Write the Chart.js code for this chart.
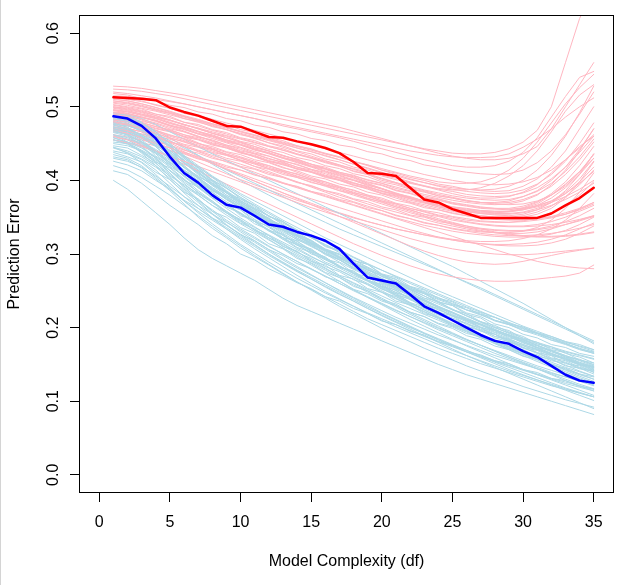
<!DOCTYPE html>
<html lang="en">
<head>
<meta charset="UTF-8" />
<title>Prediction Error vs Model Complexity</title>
<script src="https://cdn.jsdelivr.net/npm/chart.js@4.4.1/dist/chart.umd.min.js"></script>
<style>
  body { margin: 0; background: #fff; }
  canvas { display: block; }
</style>
</head>
<body>
<canvas id="errChart" width="630" height="585"></canvas>
<script>
// model complexity (df) on the x axis
const df = [1, 2, 3, 4, 5, 6, 7, 8, 9, 10, 11, 12, 13, 14, 15, 16, 17, 18,
  19, 20, 21, 22, 23, 24, 25, 26, 27, 28, 29, 30, 31, 32, 33, 34, 35];

const xTicks = [0, 5, 10, 15, 20, 25, 30, 35];
const yTicks = [0, 0.1, 0.2, 0.3, 0.4, 0.5, 0.6];
const yTickLabels = ["0.0", "0.1", "0.2", "0.3", "0.4", "0.5", "0.6"];
const xTitle = "Model Complexity (df)";
const yTitle = "Prediction Error";

// values are prediction error x 1000
// highlighted test (red) and training (blue) curves
const testMain = [513, 512, 511, 509, 499, 493, 488, 481, 474, 473, 466, 459, 458, 453, 449,
  444, 437, 425, 410, 409, 406, 390, 374, 370, 361, 355, 349, 349, 349, 349, 349, 355, 366, 376, 390];
const trainMain = [487, 484, 474, 457, 432, 410, 397, 380, 367, 363, 352, 340, 337, 330, 325,
  318, 307, 287, 268, 264, 260, 245, 229, 220, 210, 200, 190, 182, 178, 168, 160, 148, 136, 128, 125];

// individual training-sample curves (light blue)
const trainRuns = [
  [485,482,472,460,447, 432,418,405,392,380, 368,357,346,336,326, 316,306,296,287,278, 269,260,252,244,236, 228,221,214,207,200, 193,186,178,171,165],
  [470,466,455,440,424, 410,398,386,375,362, 350,340,330,320,310, 301,292,282,272,262, 253,244,236,228,220, 212,204,197,190,183, 176,169,162,155,148],
  [478,472,460,446,430, 414,400,388,378,366, 354,343,333,322,311, 300,289,279,270,261, 252,243,234,225,216, 208,200,191,182,173, 165,157,149,141,134],
  [462,458,450,438,422, 406,392,378,366,356, 344,332,320,308,297, 287,278,269,260,250, 240,231,222,213,205, 197,189,181,174,167, 160,153,146,140,134],
  [488,486,478,466,450, 434,420,406,394,382, 372,362,352,342,332, 322,313,304,295,286, 277,268,259,250,242, 234,226,218,210,202, 195,188,181,174,168],
  [455,449,440,428,414, 398,384,370,356,344, 333,322,311,300,290, 280,270,261,252,243, 234,226,218,210,202, 194,186,179,172,165, 158,151,144,137,130],
  [475,470,462,450,436, 420,404,388,374,362, 350,338,326,315,305, 295,284,273,263,253, 243,233,224,215,206, 198,190,182,174,166, 158,150,142,134,127],
  [445,440,432,420,406, 394,382,370,358,346, 336,326,316,306,296, 287,278,268,258,248, 239,230,221,212,203, 195,187,179,171,164, 157,150,143,136,130],
  [480,476,466,452,436, 418,402,388,376,364, 352,340,328,317,306, 295,284,274,264,254, 244,234,224,214,205, 196,187,178,170,162, 154,146,138,130,122],
  [468,462,452,438,422, 405,390,376,362,349, 337,325,314,303,292, 281,270,260,250,240, 230,220,211,202,193, 184,176,168,160,152, 144,136,128,121,114],
  [430,426,418,406,392, 378,366,354,343,332, 321,310,300,290,280, 270,260,251,242,233, 224,215,206,197,189, 181,173,165,158,151, 144,137,130,123,117],
  [484,480,470,456,438, 420,404,390,378,366, 355,344,334,324,315, 306,297,288,279,270, 261,252,243,234,225, 216,207,198,189,181, 173,165,157,150,143],
  [458,452,444,432,418, 402,386,372,358,345, 332,320,308,296,285, 274,263,252,241,231, 221,211,202,193,184, 175,167,159,151,143, 136,129,122,115,108],
  [400,388,372,356,340, 322,306,294,284,274, 264,252,240,230,222, 214,206,198,190,182, 174,166,158,150,143, 136,130,124,118,112, 106,100,94,88,82],
  [440,436,428,414,396, 378,362,348,336,324, 312,300,289,278,268, 258,248,238,228,219, 210,201,192,183,175, 167,159,151,143,136, 129,122,115,108,101],
  [472,469,462,452,440, 427,414,401,389,377, 366,355,344,333,322, 312,302,292,282,272, 262,252,243,234,225, 216,208,200,192,184, 176,168,160,152,145],
  [492,488,479,466,450, 433,416,400,386,373, 360,348,336,325,314, 303,292,281,270,260, 250,240,230,220,210, 200,191,182,173,164, 156,148,140,132,125],
  [465,460,452,442,430, 418,406,394,383,372, 362,352,342,332,322, 313,304,295,286,278, 270,262,254,246,238, 230,222,214,206,199, 192,185,178,172,166],
  [450,447,440,426,410, 392,374,358,344,330, 318,306,294,283,272, 261,250,240,230,220, 211,202,193,185,177, 169,161,153,146,139, 132,125,118,112,106],
  [476,474,468,458,446, 432,418,404,390,377, 364,352,340,328,317, 306,295,284,274,264, 254,245,236,227,218, 209,201,193,185,177, 170,163,156,149,142],
  [435,430,420,404,388, 372,358,346,334,322, 310,298,287,276,266, 256,246,236,226,216, 207,198,189,180,171, 162,154,146,138,130, 122,114,106,98,90],
  [486,483,476,464,448, 430,414,399,385,372, 360,348,337,326,316, 306,296,286,276,266, 256,247,238,229,220, 212,204,196,188,180, 172,164,157,150,144],
  [420,414,404,392,380, 366,352,338,324,311, 298,286,274,262,251, 240,229,219,209,199, 190,181,172,164,156, 148,141,134,127,120, 114,108,102,97,92],
  [482,478,468,454,438, 424,410,396,383,370, 358,346,335,324,314, 304,294,284,274,265, 256,247,238,229,221, 213,205,197,190,183, 176,169,162,156,150],
  [470,467,460,450,438, 424,408,393,380,368, 356,345,335,325,315, 305,295,285,276,267, 258,249,240,232,224, 216,208,200,193,186, 180,174,168,163,158],
  [460,455,445,430,413, 396,380,366,353,341, 330,319,308,298,288, 278,268,258,248,238, 228,218,209,200,192, 184,176,168,160,153, 146,139,133,127,121],
  [490,489,484,476,466, 456,446,436,427,418, 409,400,391,382,373, 364,355,346,337,328, 319,310,301,292,283, 273,263,253,243,233, 222,211,200,189,178],
  [478,476,471,463,454, 444,434,424,414,405, 396,387,378,369,360, 351,342,333,324,315, 306,297,288,279,270, 261,252,243,234,225, 216,207,198,189,180],
  [476,470,458,447,436, 418,405,396,380,371, 356,349,335,330,318, 305,299,287,280,266, 259,251,240,236,224, 219,208,203,194,188, 178,174,165,160,152],
  [466,463,452,433,421, 410,392,384,367,360, 344,338,322,318,303, 296,282,277,264,258, 244,239,227,222,210, 206,195,191,180,176, 166,162,151,148,139],
  [482,475,469,455,440, 428,409,399,383,375, 362,351,344,331,324, 311,305,291,286,272, 266,253,248,235,230, 218,213,201,196,185, 180,170,166,156,152],
  [452,450,438,425,417, 400,391,376,369,352, 346,332,327,312,307, 293,288,274,269,256, 251,238,233,221,216, 204,200,188,184,173, 169,159,155,146,142],
  [473,468,457,446,428, 414,403,386,377,362, 353,340,332,319,312, 299,292,280,273,262, 255,244,237,227,220, 210,204,194,188,179, 173,165,159,151,146],
  [488,483,474,459,444, 425,412,394,384,367, 358,343,335,321,313, 301,293,281,274,263, 256,245,238,228,221, 211,205,196,190,181, 175,167,161,153,147],
  [438,432,425,411,401, 384,375,358,350,336, 328,314,307,294,287, 275,268,256,250,238, 232,221,215,205,199, 189,184,175,170,161, 157,149,145,137,133],
  [468,466,459,448,434, 417,404,390,378,366, 357,345,337,326,318, 307,300,289,282,272, 265,255,249,239,233, 224,218,209,204,196, 190,183,177,170,165],
  [458,451,441,431,413, 401,383,372,356,347, 332,325,310,304,290, 285,271,266,253,248, 236,231,219,214,203, 199,188,184,174,170, 161,157,148,145,137],
  [479,477,468,454,441, 423,411,394,385,369, 361,347,339,326,319, 306,300,287,281,269, 263,252,246,235,230, 220,215,205,200,191, 186,177,173,165,161],
  [462,456,449,436,419, 407,390,380,364,355, 341,333,320,313,300, 294,282,276,264,259, 247,242,231,226,215, 211,200,196,186,182, 173,169,160,157,149],
  [447,444,434,423,408, 392,380,366,356,342, 334,322,313,302,294, 283,276,265,259,248, 242,232,226,217,211, 202,197,188,183,175, 170,162,158,150,146],
  [484,480,472,461,447, 430,417,400,390,375, 366,351,344,330,323, 310,304,291,286,273, 268,256,251,240,235, 224,220,210,205,196, 192,183,179,171,167],
  [426,421,413,400,388, 373,362,349,339,326, 318,306,298,287,280, 269,263,252,246,236, 230,221,215,206,201, 192,188,179,175,167, 163,155,152,144,141],
  [471,465,453,440,424, 409,396,379,369,354, 344,331,322,309,302, 289,281,271,263,252, 246,234,228,218,212, 201,196,186,181,172, 166,158,153,145,140],
  [455,452,447,437,425, 413,398,387,374,364, 352,343,332,324,313, 306,295,288,278,272, 262,256,247,241,232, 227,218,214,205,201, 193,188,181,177,170],
  [413,408,396,381,366, 353,340,325,314,300, 292,280,271,261,253, 242,236,226,219,209, 204,195,190,181,176, 167,163,155,151,143, 139,131,128,120,117],
  [490,486,476,462,445, 427,412,397,383,370, 358,347,336,325,315, 305,296,287,278,270, 262,254,246,238,231, 224,217,210,204,198, 192,186,180,175,170],
  [467,462,452,440,427, 413,397,384,371,360, 347,336,325,314,304, 293,283,274,264,255, 246,238,229,221,213, 206,198,191,184,177, 171,164,158,152,147],
  [444,438,429,418,403, 388,373,360,346,334, 323,311,300,290,279, 270,260,250,241,232, 223,215,207,199,191, 183,176,169,162,155, 148,142,136,130,124],
  [445,437,424,408,390, 372,356,341,327,313, 301,289,278,267,257, 247,238,229,220,212, 204,196,188,181,174, 167,160,154,148,142, 136,130,124,119,114],
  [462,452,437,420,401, 383,366,349,334,320, 307,295,283,271,260, 249,239,229,219,210, 201,193,185,177,169, 162,155,148,141,135, 129,123,117,111,106],
  [432,428,417,402,386, 368,350,335,322,308, 296,285,273,262,252, 242,232,222,212,204, 196,188,180,172,165, 158,151,145,139,133, 127,121,116,111,106],
  [470,461,447,430,410, 390,372,355,340,326, 313,300,288,277,266, 255,245,236,226,217, 208,200,192,184,176, 169,162,155,149,143, 137,131,126,121,116],
  [455,450,439,424,405, 386,370,354,339,327, 316,304,292,281,271, 261,251,241,232,223, 214,206,198,190,183, 176,169,162,156,150, 144,138,133,128,123],
  [478,472,461,446,428, 410,394,380,367,355, 344,333,322,312,302, 292,283,274,265,256, 248,240,232,224,217, 210,203,196,190,184, 178,172,167,162,157],
  [482,481,476,468,458, 446,434,422,411,400, 390,380,370,361,352, 343,334,326,318,310, 302,294,286,278,270, 262,254,245,236,227, 218,209,200,191,182]
];

// individual test-sample curves (pink)
const testRuns = [
  [528,527,525,522,519, 516,512,508,504,500, 496,492,488,484,480, 476,472,467,462,457, 452,447,442,437,433, 430,428,428,430,436, 446,470,500,530,560],
  [520,518,515,512,508, 504,500,496,492,488, 484,479,474,470,466, 462,458,453,448,443, 438,433,428,424,420, 418,418,420,426,438, 458,486,514,540,548],
  [505,502,498,494,489, 484,479,474,469,464, 459,454,449,444,439, 434,428,422,416,410, 404,398,392,387,382, 378,376,376,378,384, 394,410,428,446,460],
  [498,495,490,485,479, 473,467,461,455,449, 443,437,431,425,419, 413,407,401,395,389, 383,377,372,367,363, 360,358,357,358,362, 368,380,395,412,430],
  [490,487,483,478,472, 466,460,454,448,442, 436,430,424,418,412, 406,400,394,388,382, 376,370,365,360,356, 352,350,348,347,347, 348,350,354,360,368],
  [510,508,504,499,493, 487,481,475,469,463, 457,451,445,439,433, 427,421,415,409,403, 397,391,386,381,377, 373,370,368,367,368, 372,380,392,410,436],
  [480,476,470,464,458, 452,446,440,434,428, 422,416,410,404,398, 392,386,380,374,368, 362,356,351,346,342, 338,335,333,332,332, 334,338,344,352,362],
  [500,498,494,488,482, 476,470,464,458,452, 446,440,434,428,422, 416,410,403,396,389, 382,376,370,364,359, 355,352,350,349,350, 354,362,376,398,425],
  [475,471,466,460,453, 446,439,432,425,418, 411,404,397,391,385, 379,373,367,361,355, 349,344,339,335,331, 328,326,324,323,323, 324,327,332,340,350],
  [515,514,512,510,507, 504,500,496,492,488, 484,480,476,472,468, 464,460,456,452,448, 444,440,437,434,432, 431,431,432,436,445, 456,470,486,500,512],
  [495,491,486,480,474, 467,460,453,446,439, 432,425,418,411,404, 398,392,386,380,374, 368,362,357,352,348, 344,341,339,338,338, 340,344,350,358,366],
  [485,482,478,473,468, 462,456,450,444,438, 432,426,421,416,411, 406,401,396,391,386, 381,376,371,366,362, 358,355,353,352,354, 360,370,386,408,436],
  [468,464,458,451,444, 437,430,423,416,409, 402,395,388,381,375, 369,363,357,351,345, 339,333,328,323,319, 316,314,313,313,314, 316,320,326,334,342],
  [508,506,502,497,492, 487,482,477,472,467, 462,457,452,447,442, 437,432,426,420,414, 408,402,397,392,388, 385,383,382,383,387, 395,408,426,450,478],
  [492,490,486,481,475, 469,463,457,451,445, 439,433,427,421,415, 409,403,397,391,385, 380,375,370,366,362, 359,357,356,357,360, 366,376,390,408,430],
  [455,451,446,440,433, 426,419,412,405,398, 391,384,377,370,363, 357,351,345,339,333, 327,321,316,311,307, 304,302,300,299,299, 300,302,304,306,308],
  [524,523,521,518,515, 511,507,503,499,495, 491,487,483,479,475, 471,467,463,459,455, 451,447,443,440,437, 436,436,438,443,452, 468,500,560,620,660],
  [482,479,474,468,462, 456,450,444,438,432, 426,420,414,408,402, 396,390,384,378,372, 366,360,354,348,343, 338,334,330,327,325, 324,324,325,327,330],
  [500,497,493,488,482, 476,470,464,458,452, 446,440,434,428,422, 416,411,406,401,396, 391,386,381,377,373, 370,368,367,368,372, 380,394,414,440,470],
  [462,459,455,450,444, 438,432,426,420,414, 408,402,396,390,384, 378,372,366,360,354, 348,342,336,330,324, 318,312,306,300,295, 290,286,283,281,280],
  [512,510,507,503,498, 493,488,483,478,473, 468,463,458,453,448, 443,438,433,428,423, 418,413,408,404,400, 397,395,394,395,398, 404,414,428,444,462],
  [470,467,463,458,452, 446,440,434,428,422, 416,410,404,398,392, 386,380,374,368,362, 357,352,347,342,338, 334,331,329,328,328, 330,334,340,346,352],
  [495,493,489,484,478, 472,466,460,454,448, 442,436,430,424,418, 412,406,400,394,388, 382,377,372,368,364, 361,359,358,358,360, 364,370,378,388,400],
  [478,475,471,466,460, 454,448,442,436,430, 424,418,412,406,400, 394,388,382,376,370, 364,358,352,346,340, 336,332,329,326,324, 323,323,324,326,329],
  [460,455,448,440,431, 422,413,404,395,386, 377,368,359,350,341, 332,323,314,306,298, 291,284,278,273,269, 266,264,263,263,264, 266,268,270,274,285],
  [472,468,462,455,447, 439,431,423,415,407, 399,391,383,375,367, 359,351,343,335,327, 319,311,304,298,293, 289,287,286,287,290, 294,298,302,305,308],
  [503,500,497,490,487, 479,476,469,465,458, 454,447,443,436,431, 425,420,412,408,400, 396,389,385,379,376, 372,370,370,372,378, 386,400,418,442,470],
  [488,486,480,477,470, 466,459,455,448,444, 437,433,426,422,415, 411,404,400,393,389, 382,378,372,369,364, 362,359,358,358,361, 366,372,382,396,412],
  [514,511,508,502,498, 491,487,480,476,469, 465,458,454,447,443, 436,432,425,421,414, 410,404,400,395,392, 388,386,385,386,392, 402,418,440,470,500],
  [476,474,468,464,457, 453,446,442,435,431, 424,420,413,409,402, 398,391,387,380,376, 369,365,359,356,351, 348,345,344,343,344, 346,349,354,361,370],
  [496,493,488,484,477, 473,466,462,455,451, 444,440,433,429,422, 418,411,407,400,396, 389,385,379,375,370, 367,364,362,361,362, 365,372,384,402,426],
  [483,480,476,470,466, 459,455,448,444,437, 433,426,422,415,411, 404,400,393,389,382, 378,371,367,362,358, 354,352,350,350,352, 357,365,378,394,414],
  [518,516,511,508,502, 499,493,490,484,481, 475,472,466,463,457, 454,448,445,439,436, 430,427,421,418,414, 411,409,408,409,414, 424,440,462,490,520],
  [466,463,459,452,448, 441,437,430,426,419, 415,408,404,397,393, 386,382,375,371,364, 360,353,350,344,341, 336,334,332,331,331, 333,336,340,345,351],
  [492,489,485,481,474, 470,463,459,452,448, 441,437,430,426,419, 415,408,404,397,393, 386,382,376,373,368, 365,362,361,360,363, 370,382,398,420,446],
  [508,505,501,495,491, 484,480,473,469,462, 458,451,447,440,436, 429,425,418,414,407, 403,397,393,388,385, 381,379,378,379,383, 390,402,418,438,460],
  [479,477,472,468,461, 457,450,446,439,435, 428,424,417,413,406, 402,395,391,384,380, 373,369,363,360,355, 352,349,347,346,346, 348,351,356,362,370],
  [499,496,492,486,482, 475,471,464,460,453, 449,442,438,431,427, 420,416,409,405,398, 394,388,384,379,376, 372,370,369,370,374, 381,392,408,428,452],
  [486,483,479,473,469, 462,458,451,447,440, 436,429,425,418,414, 407,403,396,392,385, 381,375,371,366,362, 359,356,355,355,357, 362,370,382,398,418],
  [470,468,463,459,452, 448,441,437,430,426, 419,415,408,404,397, 393,386,382,375,371, 364,360,354,351,346, 343,340,338,337,337, 338,340,343,347,352],
  [511,508,504,499,494, 488,483,477,472,466, 461,455,450,444,439, 433,428,422,417,411, 406,401,397,393,390, 388,387,388,392,400, 414,434,460,492,528],
  [458,456,451,447,440, 436,429,425,418,414, 407,403,396,392,385, 381,374,370,363,359, 352,348,342,339,334, 331,328,326,325,325, 326,328,331,335,340],
  [502,499,495,490,485, 479,474,468,463,457, 452,446,441,435,430, 424,419,413,408,402, 397,392,387,383,379, 376,374,373,374,378, 385,396,412,432,456],
  [493,491,486,482,475, 471,464,460,453,449, 442,438,431,427,420, 416,409,405,398,394, 387,383,377,374,369, 366,363,362,362,365, 371,380,394,412,435],
  [484,481,477,471,467, 460,456,449,445,438, 434,427,423,416,412, 405,401,394,390,383, 379,373,369,364,361, 357,355,354,354,356, 360,366,374,384,396],
  [473,470,466,460,456, 449,445,438,434,427, 423,416,412,405,401, 394,390,383,379,372, 368,362,358,353,350, 346,344,343,343,345, 349,356,366,380,398],
  [480,475,468,460,451, 442,433,424,415,407, 399,391,383,376,369, 362,356,350,344,339, 334,330,326,322,319, 316,314,312,311,311, 312,315,320,328,338],
  [470,464,457,449,441, 433,425,417,409,401, 394,387,380,373,367, 361,355,349,344,339, 334,330,326,323,320, 318,317,317,318,321, 326,334,346,362,382],
  [492,488,482,475,467, 459,451,443,435,427, 419,412,405,398,391, 384,377,371,365,359, 353,348,343,339,335, 332,330,329,329,331, 336,346,362,384,410],
  [506,504,500,496,491, 486,481,476,471,466, 461,456,451,446,441, 436,431,426,421,416, 411,406,402,398,396, 396,398,404,414,430, 452,478,504,526,544],
  [496,494,490,486,481, 476,471,466,461,456, 451,446,441,436,431, 426,421,416,411,406, 401,396,392,389,387, 387,390,396,406,420, 440,466,494,516,530]
];

const toErr = run => run.map(v => v / 1000);

// dataset 0 is drawn on top in Chart.js, so the highlighted curves go first
const datasets = [
  { data: toErr(testMain), borderColor: "#ff0000", borderWidth: 2.5 },
  { data: toErr(trainMain), borderColor: "#0000ff", borderWidth: 2.5 }
];
for (let i = 0; i < Math.max(trainRuns.length, testRuns.length); i++) {
  if (testRuns[i]) datasets.push({ data: toErr(testRuns[i]), borderColor: "#ffb6c1", borderWidth: 1 });
  if (trainRuns[i]) datasets.push({ data: toErr(trainRuns[i]), borderColor: "#add8e6", borderWidth: 1 });
}

const FONT = "16px 'Liberation Sans', Arial, sans-serif";

// box, tick labels and axis titles drawn R style
const framePlugin = {
  id: "frame",
  afterDraw(chart) {
    const { ctx, chartArea: a, scales } = chart;
    ctx.save();
    ctx.fillStyle = "#d4d4d4";
    ctx.fillRect(0, 0, 1, chart.height);

    ctx.strokeStyle = "#000";
    ctx.lineWidth = 1;
    ctx.strokeRect(a.left, a.top, a.right - a.left, a.bottom - a.top);

    ctx.fillStyle = "#000";
    ctx.font = FONT;
    ctx.textAlign = "center";
    ctx.textBaseline = "alphabetic";
    xTicks.forEach(v => {
      ctx.fillText(String(v), scales.x.getPixelForValue(v), 527);
    });
    yTicks.forEach((v, i) => {
      ctx.save();
      ctx.translate(57.5, scales.y.getPixelForValue(v));
      ctx.rotate(-Math.PI / 2);
      ctx.fillText(yTickLabels[i], 0, 0);
      ctx.restore();
    });

    ctx.fillText(xTitle, (a.left + a.right) / 2, 566);
    ctx.save();
    ctx.translate(19, (a.top + a.bottom) / 2);
    ctx.rotate(-Math.PI / 2);
    ctx.fillText(yTitle, 0, 0);
    ctx.restore();
    ctx.restore();
  }
};

new Chart(document.getElementById("errChart"), {
  type: "line",
  data: { labels: df, datasets: datasets },
  options: {
    responsive: false,
    animation: false,
    devicePixelRatio: 1,
    layout: { padding: { top: 15.5, right: 16.5, bottom: 0, left: 0 } },
    elements: {
      point: { radius: 0 },
      line: { tension: 0, fill: false, borderCapStyle: "round", borderJoinStyle: "round" }
    },
    datasets: { line: { clip: 0 } },
    plugins: { legend: { display: false }, tooltip: { enabled: false } },
    scales: {
      x: {
        type: "linear",
        min: -1.4,
        max: 36.4,
        afterBuildTicks: s => { s.ticks = xTicks.map(v => ({ value: v })); },
        afterFit: s => { s.height = 92.5; },
        grid: { drawOnChartArea: false, drawTicks: true, tickLength: 9.5, color: "#000", lineWidth: 1 },
        border: { display: false },
        ticks: { display: false }
      },
      y: {
        min: -0.024,
        max: 0.624,
        afterBuildTicks: s => { s.ticks = yTicks.map(v => ({ value: v })); },
        afterFit: s => { s.width = 79.5; },
        grid: { drawOnChartArea: false, drawTicks: true, tickLength: 9.5, color: "#000", lineWidth: 1 },
        border: { display: false },
        ticks: { display: false }
      }
    }
  },
  plugins: [framePlugin]
});
</script>
</body>
</html>
